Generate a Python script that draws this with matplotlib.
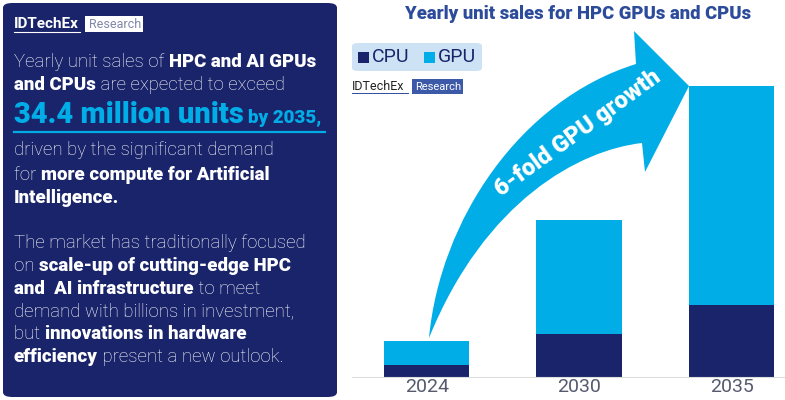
import matplotlib.pyplot as plt
import numpy as np
from matplotlib.patches import FancyBboxPatch, PathPatch, Rectangle
from matplotlib.path import Path

plt.rcParams['font.family'] = ['Roboto', 'DejaVu Sans']

years = ['2024', '2030', '2035']
cpu = [1.4, 5.1, 8.5]
gpu = [2.8, 13.4, 25.9]

NAVY = '#19246a'
CYAN = '#00ade6'
W, H = 785, 400

fig = plt.figure(figsize=(7.85, 4.0), dpi=100)
fig.patch.set_facecolor('white')


def px(x, y):
    return x / W, 1 - y / H


# ---- left text panel ----
fig.patches.append(FancyBboxPatch(px(3, 397), 334 / W, 394 / H,
                                  boxstyle='round,pad=0,rounding_size=0.012',
                                  transform=fig.transFigure, fc=NAVY, ec='none'))
fig.text(*px(14, 24), 'IDTechEx', color='white', fontsize=11, weight='bold', va='center')
fig.add_artist(plt.Line2D([14 / W, 80 / W], [1 - 32 / H] * 2, color='white', lw=0.8))
fig.patches.append(Rectangle(px(85, 32), 58 / W, 16 / H, transform=fig.transFigure,
                             fc='white', ec='none'))
fig.text(*px(89, 24), 'Research', color='#8088a8', fontsize=9, va='center')

renderer = fig.canvas.get_renderer()


def rich(x, y, parts, size=13.4):
    for s, bold in parts:
        t = fig.text(*px(x, y), s, color='white', fontsize=size,
                     weight='black' if bold else 'light', va='baseline')
        x += t.get_window_extent(renderer).width


lines = [
    (67, [('Yearly unit sales of ', False), ('HPC and AI GPUs', True)]),
    (90, [('and CPUs', True), (' are expected to exceed', False)]),
    (155, [('driven by the significant demand', False)]),
    (180, [('for ', False), ('more compute for Artificial', True)]),
    (203, [('Intelligence.', True)]),
    (248, [('The market has traditionally focused', False)]),
    (271, [('on ', False), ('scale-up of cutting-edge HPC', True)]),
    (294, [('and  AI infrastructure', True), (' to meet', False)]),
    (316, [('demand with billions in investment,', False)]),
    (339, [('but ', False), ('innovations in hardware', True)]),
    (362, [('efficiency', True), (' present a new outlook.', False)]),
]
for y, parts in lines:
    rich(14, y, parts)

t = fig.text(*px(14, 123), '34.4 million units', color=CYAN, fontsize=21,
             weight='black', va='baseline')
x2 = 14 + t.get_window_extent(renderer).width + 4
fig.text(*px(x2, 123), 'by 2035,', color=CYAN, fontsize=13.5, weight='black', va='baseline')
fig.add_artist(plt.Line2D([14 / W, 325 / W], [1 - 132 / H] * 2, color=CYAN, lw=1.6))

# ---- chart ----
ax = fig.add_axes([352 / W, 23 / H, (W - 352) / W, 357 / H])
x = np.arange(len(years))
ax.bar(x, cpu, width=0.56, color=NAVY)
ax.bar(x, gpu, bottom=cpu, width=0.56, color=CYAN)
ax.set_xlim(-0.49, 2.35)
ax.set_ylim(0, 42.2)
ax.set_xticks(x, years)
ax.tick_params(axis='x', length=0, labelsize=14, labelcolor='#555a6e', pad=1)
ax.set_yticks([])
for s in ['top', 'right', 'left']:
    ax.spines[s].set_visible(False)
ax.spines['bottom'].set_color('#dddddd')
ax.patch.set_alpha(0)

# curved arrow (decoration, figure pixel coords)
verts = [(429, 338),
         (440, 220), (520, 100), (636, 64),
         (634, 31), (689, 86), (645, 172),
         (642, 143),
         (580, 150), (485, 200), (429, 338)]
codes = [Path.MOVETO, Path.CURVE4, Path.CURVE4, Path.CURVE4,
         Path.LINETO, Path.LINETO, Path.LINETO, Path.LINETO,
         Path.CURVE4, Path.CURVE4, Path.CURVE4]
verts = [px(a, b) for a, b in verts]
fig.patches.append(PathPatch(Path(verts, codes), transform=fig.transFigure,
                             fc=CYAN, ec='none', zorder=3))
fig.text(*px(578, 133), '6-fold GPU growth', color='white', fontsize=17,
         weight='black', rotation=36, ha='center', va='center', zorder=4)

fig.text(*px(578, 14), 'Yearly unit sales for HPC GPUs and CPUs', color='#2d4b9b',
         fontsize=13.3, weight='black', ha='center', va='center')

# legend
fig.patches.append(FancyBboxPatch(px(352, 71), 130 / W, 28 / H,
                                  boxstyle='round,pad=0,rounding_size=0.008',
                                  transform=fig.transFigure, fc='#cde2f4', ec='none'))
for xx, lab, col in [(358, 'CPU', NAVY), (424, 'GPU', CYAN)]:
    fig.patches.append(Rectangle(px(xx, 63), 11 / W, 11 / H, transform=fig.transFigure,
                                 fc=col, ec='none'))
    fig.text(*px(xx + 14, 57), lab, color=NAVY, fontsize=14, va='center')

fig.text(*px(352, 86), 'IDTechEx', color='#222222', fontsize=9, va='center')
fig.add_artist(plt.Line2D([352 / W, 408 / W], [1 - 93 / H] * 2, color='#2d4b9b', lw=0.7))
fig.patches.append(Rectangle(px(412, 94), 51 / W, 15 / H, transform=fig.transFigure,
                             fc='#3d5aa8', ec='none'))
fig.text(*px(415, 86.5), 'Research', color='white', fontsize=8, va='center')

fig.savefig('out.png', dpi=100)
